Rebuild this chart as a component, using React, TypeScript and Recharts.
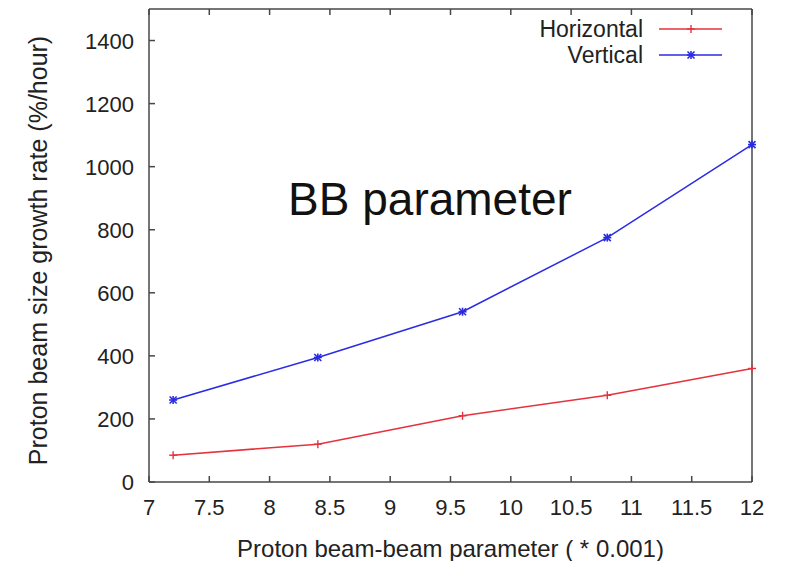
import { LineChart, Line, XAxis, YAxis, Legend, Label } from "recharts";

// beam-beam parameter (x 0.001) and the growth rates measured at each point
const beamBeam = [7.2, 8.4, 9.6, 10.8, 12];
const horizontalRate = [85, 120, 210, 275, 360];
const verticalRate = [260, 395, 540, 775, 1070];

const xTicks = [7, 7.5, 8, 8.5, 9, 9.5, 10, 10.5, 11, 11.5, 12];
const yTicks = [0, 200, 400, 600, 800, 1000, 1200, 1400];

const data = beamBeam.map((b, i) => ({
  b,
  horizontal: horizontalRate[i],
  vertical: verticalRate[i],
}));

const FONT = '"Liberation Sans", Arial, Helvetica, sans-serif';
const AXIS = "#474747";
const TEXT = "#222";
const RED = "#e5323c";
const BLUE = "#2b2be3";
const TICK = 6;
const TICK_FONT = 22;

function PlusMark({ cx, cy, color }: { cx: number; cy: number; color: string }) {
  return (
    <g stroke={color} strokeWidth={1.4}>
      <line x1={cx - 4} y1={cy} x2={cx + 4} y2={cy} />
      <line x1={cx} y1={cy - 4} x2={cx} y2={cy + 4} />
    </g>
  );
}

function StarMark({ cx, cy, color }: { cx: number; cy: number; color: string }) {
  return (
    <g stroke={color} strokeWidth={1.6}>
      <line x1={cx - 4} y1={cy} x2={cx + 4} y2={cy} />
      <line x1={cx} y1={cy - 4} x2={cx} y2={cy + 4} />
      <line x1={cx - 3.5} y1={cy - 3.5} x2={cx + 3.5} y2={cy + 3.5} />
      <line x1={cx - 3.5} y1={cy + 3.5} x2={cx + 3.5} y2={cy - 3.5} />
    </g>
  );
}

// inward ticks, gnuplot style
function BottomTick({ x, y, payload }: any) {
  return (
    <g>
      <line x1={x} y1={y} x2={x} y2={y - TICK} stroke={AXIS} strokeWidth={1.5} />
      <text x={x} y={y + 33} textAnchor="middle" fontSize={TICK_FONT} fill={TEXT} fontFamily={FONT}>
        {payload.value}
      </text>
    </g>
  );
}

function LeftTick({ x, y, payload }: any) {
  return (
    <g>
      <line x1={x} y1={y} x2={x + TICK} y2={y} stroke={AXIS} strokeWidth={1.5} />
      <text x={x - 15} y={y + 8} textAnchor="end" fontSize={TICK_FONT} fill={TEXT} fontFamily={FONT}>
        {payload.value}
      </text>
    </g>
  );
}

function TopTick({ x, y }: any) {
  return <line x1={x} y1={y} x2={x} y2={y + TICK} stroke={AXIS} strokeWidth={1.5} />;
}

function RightTick({ x, y }: any) {
  return <line x1={x} y1={y} x2={x - TICK} y2={y} stroke={AXIS} strokeWidth={1.5} />;
}

function SeriesKey() {
  const rows = [
    { name: "Horizontal", color: RED, Mark: PlusMark },
    { name: "Vertical", color: BLUE, Mark: StarMark },
  ];
  return (
    <svg width={230} height={60} style={{ display: "block" }}>
      {rows.map((r, i) => {
        const cy = 17 + i * 26;
        return (
          <g key={r.name}>
            <text x={143} y={cy + 8} textAnchor="end" fontSize={23} fill={TEXT} fontFamily={FONT}>
              {r.name}
            </text>
            <line x1={159} y1={cy} x2={222} y2={cy} stroke={r.color} strokeWidth={1.5} />
            <r.Mark cx={191} cy={cy} color={r.color} />
          </g>
        );
      })}
    </svg>
  );
}

export default function App() {
  return (
    <div style={{ position: "absolute", left: 0, top: 0, background: "#fff" }}>
      <LineChart width={791} height={561} data={data} margin={{ top: 8, right: 38, bottom: 0, left: 0 }}>
        <XAxis
          xAxisId="b"
          dataKey="b"
          type="number"
          domain={[7, 12]}
          ticks={xTicks}
          interval={0}
          height={79}
          stroke={AXIS}
          strokeWidth={1.5}
          tickSize={0}
          tickMargin={0}
          tickLine={false}
          tick={<BottomTick />}
        >
          <Label
            content={({ viewBox }: any) => (
              <text
                x={viewBox.x + viewBox.width / 2}
                y={548}
                textAnchor="middle"
                dominantBaseline="central"
                fontSize={24}
                fill={TEXT}
                fontFamily={FONT}
              >
                Proton beam-beam parameter ( * 0.001)
              </text>
            )}
          />
        </XAxis>
        <XAxis
          xAxisId="t"
          orientation="top"
          dataKey="b"
          type="number"
          domain={[7, 12]}
          ticks={xTicks}
          interval={0}
          height={1}
          stroke={AXIS}
          strokeWidth={1.5}
          tickSize={0}
          tickMargin={0}
          tickLine={false}
          tick={<TopTick />}
        />
        <YAxis
          yAxisId="l"
          type="number"
          domain={[0, 1500]}
          ticks={yTicks}
          interval={0}
          width={149}
          stroke={AXIS}
          strokeWidth={1.5}
          tickSize={0}
          tickMargin={0}
          tickLine={false}
          tick={<LeftTick />}
        >
          <Label
            content={({ viewBox }: any) => {
              const cx = 38;
              const cy = viewBox.y + viewBox.height / 2 + 5;
              return (
                <text
                  x={cx}
                  y={cy}
                  transform={`rotate(-90 ${cx} ${cy})`}
                  textAnchor="middle"
                  dominantBaseline="central"
                  fontSize={25}
                  fill={TEXT}
                  fontFamily={FONT}
                >
                  Proton beam size growth rate (%/hour)
                </text>
              );
            }}
          />
        </YAxis>
        <YAxis
          yAxisId="r"
          orientation="right"
          type="number"
          domain={[0, 1500]}
          ticks={yTicks}
          interval={0}
          width={1}
          stroke={AXIS}
          strokeWidth={1.5}
          tickSize={0}
          tickMargin={0}
          tickLine={false}
          tick={<RightTick />}
        />
        <Legend
          layout="vertical"
          align="center"
          verticalAlign="middle"
          content={() => <SeriesKey />}
          wrapperStyle={{ position: "absolute", left: 500, top: 12, width: 230, height: 60 }}
        />
        <Line
          xAxisId="b"
          yAxisId="l"
          type="linear"
          dataKey="horizontal"
          name="Horizontal"
          stroke={RED}
          strokeWidth={1.5}
          isAnimationActive={false}
          activeDot={false}
          dot={(p: any) => <PlusMark key={`h${p.index}`} cx={p.cx} cy={p.cy} color={RED} />}
        />
        <Line
          xAxisId="b"
          yAxisId="l"
          type="linear"
          dataKey="vertical"
          name="Vertical"
          stroke={BLUE}
          strokeWidth={1.5}
          isAnimationActive={false}
          activeDot={false}
          dot={(p: any) => <StarMark key={`v${p.index}`} cx={p.cx} cy={p.cy} color={BLUE} />}
        />
        <text x={430} y={215} textAnchor="middle" fontSize={46} fill="#111" fontFamily={FONT}>
          BB parameter
        </text>
      </LineChart>
    </div>
  );
}
